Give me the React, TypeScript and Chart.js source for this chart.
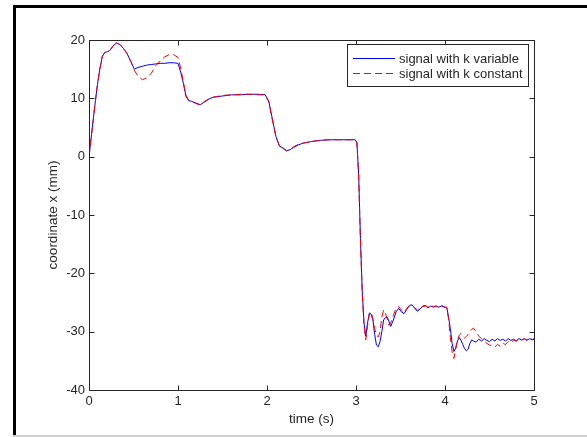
import React, { useEffect, useRef } from "react";
import { Chart, registerables } from "chart.js";

Chart.register(...registerables);

// ---- data ----
const time = [
  0, 0.03, 0.06, 0.09, 0.12, 0.15, 0.18, 0.21, 0.24, 0.27,
  0.31, 0.35, 0.39, 0.43, 0.47, 0.51, 0.55, 0.60, 0.65, 0.70,
  0.75, 0.80, 0.85, 0.90, 0.95, 1.00, 1.03, 1.06, 1.09, 1.12,
  1.15, 1.20, 1.25, 1.30, 1.35, 1.40, 1.50, 1.60, 1.70, 1.80,
  1.90, 1.98, 2.02, 2.06, 2.10, 2.14, 2.18, 2.22, 2.26, 2.30,
  2.35, 2.40, 2.50, 2.60, 2.70, 2.80, 2.90, 2.99, 3.01, 3.03,
  3.05, 3.07, 3.09, 3.11, 3.13, 3.15, 3.17, 3.19, 3.21, 3.23,
  3.25, 3.27, 3.29, 3.31, 3.33, 3.35, 3.37, 3.39, 3.42, 3.45,
  3.48, 3.51, 3.54, 3.57, 3.60, 3.63, 3.66, 3.69, 3.72, 3.75,
  3.78, 3.81, 3.84, 3.87, 3.90, 3.93, 3.96, 3.99, 4.02, 4.04,
  4.06, 4.08, 4.10, 4.12, 4.14, 4.16, 4.18, 4.20, 4.22, 4.24,
  4.26, 4.28, 4.30, 4.32, 4.35, 4.38, 4.41, 4.44, 4.47, 4.50,
  4.53, 4.56, 4.59, 4.62, 4.65, 4.68, 4.71, 4.74, 4.77, 4.80,
  4.83, 4.86, 4.89, 4.92, 4.95, 4.98, 5.00,
];

const kVariable = [
  0, 4.0, 8.0, 11.8, 14.9, 17.2, 17.9, 18.0, 18.3, 19.0,
  19.5, 19.2, 18.5, 17.6, 16.3, 15.0, 15.3, 15.5, 15.7, 15.8,
  15.9, 16.0, 16.0, 16.1, 16.1, 16.0, 14.5, 12.6, 10.3, 9.6,
  9.5, 9.2, 8.9, 9.4, 9.9, 10.2, 10.4, 10.6, 10.6, 10.7,
  10.7, 10.6, 9.5, 6.5, 3.5, 1.8, 1.5, 1.0, 1.2, 1.6,
  2.0, 2.3, 2.6, 2.8, 2.9, 2.9, 2.9, 2.9, 2.5, -3.0,
  -14.0, -23.0, -28.5, -30.8, -28.5, -26.8, -27.0, -28.0, -30.5, -32.3,
  -32.6, -31.7, -30.0, -28.0, -27.6, -27.5, -28.2, -29.1, -28.0, -26.6,
  -26.0, -26.6, -26.9, -26.2, -25.5, -25.4, -26.0, -26.5, -26.1, -25.6,
  -25.5, -25.9, -25.6, -25.8, -25.6, -25.8, -25.6, -25.8, -25.8, -27.5,
  -29.5, -32.0, -33.4, -32.8, -31.6, -31.0, -31.5, -32.2, -32.9, -33.3,
  -33.0, -32.0, -31.4, -31.6, -31.8, -31.3, -31.6, -31.2, -31.5, -31.7,
  -31.3, -31.6, -31.2, -31.5, -31.3, -31.6, -31.2, -31.5, -31.3, -31.6,
  -31.2, -31.4, -31.2, -31.5, -31.2, -31.4, -31.3,
];

const kConstant = [
  0, 4.0, 8.0, 11.8, 14.9, 17.2, 17.9, 18.0, 18.3, 19.0,
  19.5, 19.2, 18.5, 17.6, 16.3, 14.8, 13.8, 13.2, 13.5, 14.3,
  15.6, 16.4, 17.1, 17.5, 17.5, 17.0, 15.2, 12.8, 10.5, 9.7,
  9.5, 9.1, 8.9, 9.5, 9.9, 10.2, 10.5, 10.6, 10.7, 10.7,
  10.6, 10.6, 9.4, 6.3, 3.4, 1.8, 1.4, 1.0, 1.3, 1.7,
  2.1, 2.3, 2.6, 2.8, 2.9, 2.9, 2.9, 2.9, 2.4, -3.5,
  -14.5, -23.5, -29.0, -31.4, -29.0, -27.0, -26.6, -27.8, -29.5, -30.6,
  -30.9, -30.0, -27.5, -26.3, -26.8, -27.8, -28.9, -28.5, -27.2, -26.0,
  -25.7, -26.3, -26.7, -26.0, -25.6, -25.5, -25.9, -26.3, -25.9, -25.7,
  -25.6, -25.8, -25.5, -25.7, -25.6, -25.9, -25.5, -25.7, -26.0, -27.8,
  -31.0, -33.5, -34.6, -33.0, -31.4, -30.6, -30.3, -30.8, -31.1, -30.8,
  -30.5, -30.0, -29.6, -29.4, -30.0, -30.8, -31.2, -31.6, -32.0, -32.3,
  -32.4, -32.6, -32.2, -32.5, -32.0, -32.2, -31.7, -31.9, -31.5, -31.6,
  -31.3, -31.5, -31.2, -31.4, -31.1, -31.3, -31.2,
];

const xTicks = [0, 1, 2, 3, 4, 5];
const yTicks = [-40, -30, -20, -10, 0, 10, 20];
const seriesLabels = ["signal with k variable", "signal with k constant"];
const xTitle = "time (s)";
const yTitle = "coordinate x (mm)";

const FONT = '"Liberation Sans", Arial, Helvetica, sans-serif';
const INK = "#262626";
const BLUE = "rgb(0,0,255)";
const RED = "rgb(255,0,0)";
const RED_DASH = [7, 4];

const decorPlugin = {
  id: "decor",
  beforeDraw(chart: any) {
    const ctx = chart.ctx;
    ctx.save();
    ctx.fillStyle = "#ffffff";
    ctx.fillRect(0, 0, chart.width, chart.height);
    // outer frame of the picture
    ctx.fillStyle = "#000000";
    ctx.fillRect(13, 5, 574, 3);
    ctx.fillRect(13, 5, 3, chart.height - 5);
    ctx.fillStyle = "#d0d0d0";
    ctx.fillRect(13, 435, chart.width - 13, 2);
    ctx.restore();
  },
  afterDatasetsDraw(chart: any) {
    const ctx = chart.ctx;
    const { left, right, top, bottom } = chart.chartArea;
    const xs = chart.scales.x;
    const ys = chart.scales.y;
    const L = Math.round(left) + 0.5;
    const R = Math.round(right) + 0.5;
    const T = Math.round(top) + 0.5;
    const B = Math.round(bottom) + 0.5;
    const tl = 5;
    ctx.save();
    ctx.strokeStyle = INK;
    ctx.lineWidth = 1;
    ctx.setLineDash([]);
    ctx.strokeRect(L, T, R - L, B - T);
    ctx.beginPath();
    xTicks.forEach((v) => {
      const p = Math.round(xs.getPixelForValue(v)) + 0.5;
      ctx.moveTo(p, B);
      ctx.lineTo(p, B - tl);
      ctx.moveTo(p, T);
      ctx.lineTo(p, T + tl);
    });
    yTicks.forEach((v) => {
      const p = Math.round(ys.getPixelForValue(v)) + 0.5;
      ctx.moveTo(L, p);
      ctx.lineTo(L + tl, p);
      ctx.moveTo(R, p);
      ctx.lineTo(R - tl, p);
    });
    ctx.stroke();

    // legend box
    const bx = 347.5, by = 44.5, bw = 181, bh = 42;
    ctx.fillStyle = "#ffffff";
    ctx.fillRect(bx, by, bw, bh);
    ctx.strokeStyle = INK;
    ctx.strokeRect(bx, by, bw, bh);
    const rows = [
      { color: BLUE, dash: [] as number[], y: 58.5 },
      { color: RED, dash: RED_DASH, y: 73.5 },
    ];
    rows.forEach((r, i) => {
      ctx.beginPath();
      ctx.strokeStyle = r.color;
      ctx.setLineDash(r.dash);
      ctx.moveTo(353, r.y);
      ctx.lineTo(395, r.y);
      ctx.stroke();
      ctx.setLineDash([]);
      ctx.fillStyle = INK;
      ctx.font = `13px ${FONT}`;
      ctx.textAlign = "left";
      ctx.textBaseline = "middle";
      ctx.fillText(seriesLabels[i], 399, r.y + 0.5);
    });
    ctx.restore();
  },
};

export default function App() {
  const ref = useRef<HTMLCanvasElement | null>(null);

  useEffect(() => {
    if (!ref.current) return;
    const chart = new Chart(ref.current, {
      type: "line",
      data: {
        datasets: [
          {
            label: seriesLabels[0],
            data: time.map((t, i) => ({ x: t, y: kVariable[i] })),
            borderColor: BLUE,
            borderWidth: 1,
            pointRadius: 0,
            tension: 0,
            fill: false,
            order: 1,
          },
          {
            label: seriesLabels[1],
            data: time.map((t, i) => ({ x: t, y: kConstant[i] })),
            borderColor: RED,
            borderWidth: 1,
            borderDash: RED_DASH,
            pointRadius: 0,
            tension: 0,
            fill: false,
            order: 0,
          },
        ],
      },
      options: {
        responsive: false,
        animation: false,
        events: [],
        layout: { padding: { left: 0, top: 40, right: 53, bottom: 0 } },
        plugins: {
          legend: { display: false },
          tooltip: { enabled: false },
        },
        scales: {
          x: {
            type: "linear",
            min: 0,
            max: 5,
            grid: { display: false, drawTicks: false },
            border: { display: false },
            afterBuildTicks: (s: any) => {
              s.ticks = xTicks.map((v) => ({ value: v }));
            },
            afterFit: (s: any) => {
              s.height = 47;
            },
            ticks: {
              color: INK,
              padding: 4,
              maxRotation: 0,
              autoSkip: false,
              font: { family: FONT, size: 13 },
            },
            title: {
              display: true,
              text: xTitle,
              color: INK,
              font: { family: FONT, size: 13.5 },
              padding: { top: 0, bottom: 10 },
            },
          },
          y: {
            type: "linear",
            min: -40,
            max: 20,
            grid: { display: false, drawTicks: false },
            border: { display: false },
            afterBuildTicks: (s: any) => {
              s.ticks = yTicks.map((v) => ({ value: v }));
            },
            afterFit: (s: any) => {
              s.width = 89;
            },
            ticks: {
              color: INK,
              padding: 4,
              autoSkip: false,
              font: { family: FONT, size: 13 },
            },
            title: {
              display: true,
              text: yTitle,
              color: INK,
              font: { family: FONT, size: 13.5 },
              padding: { top: 45, bottom: 0 },
            },
          },
        },
      },
      plugins: [decorPlugin],
    } as any);
    return () => chart.destroy();
  }, []);

  return (
    <div
      style={{
        position: "absolute",
        left: 0,
        top: 0,
        width: 587,
        height: 437,
        background: "#ffffff",
      }}
    >
      <canvas ref={ref} width={587} height={437} style={{ display: "block" }} />
    </div>
  );
}
